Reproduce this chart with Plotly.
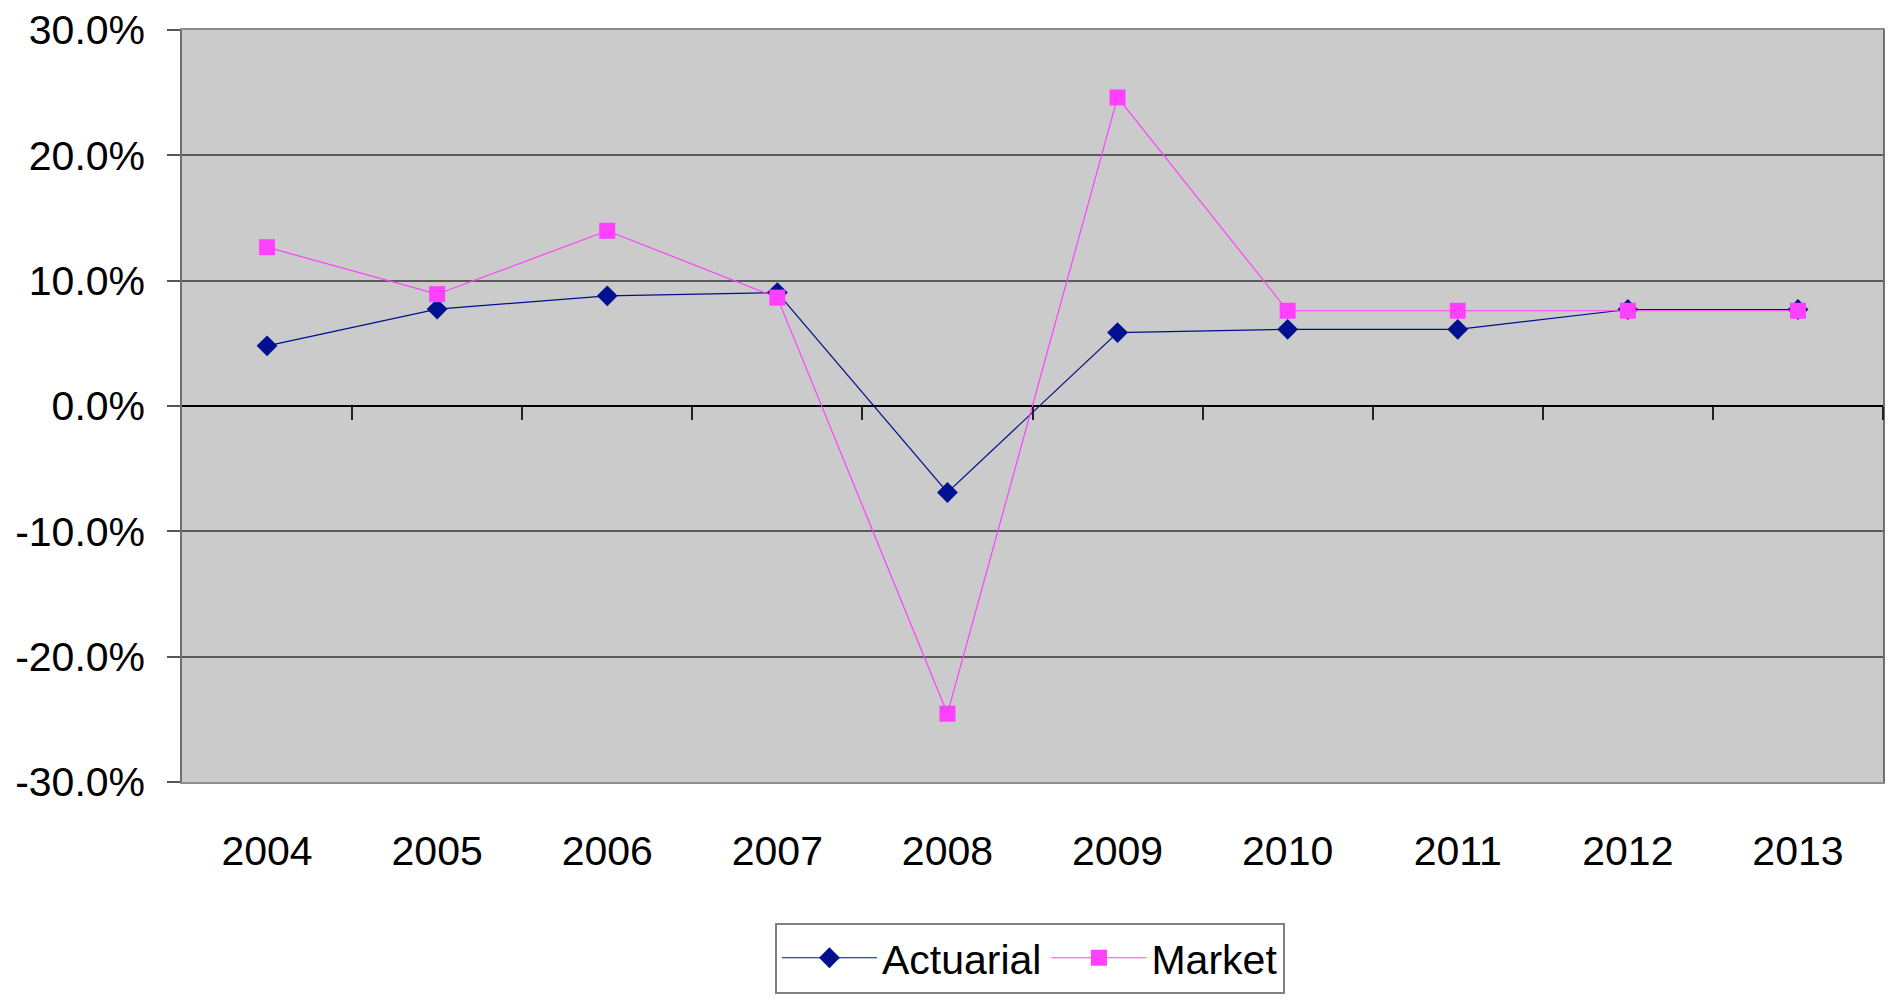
import plotly.graph_objects as go

years = ["2004", "2005", "2006", "2007", "2008", "2009", "2010", "2011", "2012", "2013"]
actuarial = [0.048, 0.0773, 0.0879, 0.0905, -0.069, 0.0586, 0.0612, 0.0612, 0.077, 0.077]
market = [0.1267, 0.0892, 0.1398, 0.0865, -0.2455, 0.2462, 0.076, 0.076, 0.076, 0.076]
y_ticks = [-0.3, -0.2, -0.1, 0.0, 0.1, 0.2, 0.3]
y_ticktext = [f"{v * 100:.1f}%" for v in y_ticks]
boundaries = [0.5, 1.5, 2.5, 3.5, 4.5, 5.5, 6.5, 7.5, 8.5, 9.5]

FONT = "Liberation Sans, Arial, sans-serif"

fig = go.Figure()
fig.add_trace(go.Scatter(
    x=years, y=actuarial, name="Actuarial", mode="lines+markers",
    line=dict(color="#000E8C", width=1.2),
    marker=dict(symbol="diamond", size=16, color="#001090"),
))
fig.add_trace(go.Scatter(
    x=years, y=market, name="Market", mode="lines+markers",
    line=dict(color="#FF40FF", width=1.2),
    marker=dict(symbol="square", size=16, color="#FF40FF"),
))
# invisible helper trace for the zero-line tick axis
fig.add_trace(go.Scatter(x=[boundaries[0]], y=[0], xaxis="x2", mode="markers",
                         marker=dict(opacity=0), showlegend=False, hoverinfo="skip"))

fig.update_layout(
    width=1890, height=1001,
    margin=dict(l=182, r=7, t=30, b=214),
    paper_bgcolor="white",
    plot_bgcolor="#CBCBCB",
    font=dict(family=FONT, size=41, color="black"),
    showlegend=True,
    legend=dict(
        orientation="h", x=0.4985, xanchor="center", y=-0.187, yanchor="top",
        bordercolor="#808080", borderwidth=2, bgcolor="white",
        font=dict(family=FONT, size=41, color="black"),
        itemwidth=95,
    ),
    xaxis=dict(
        type="category", range=[-0.5, 9.5], automargin=False,
        showgrid=False, zeroline=False,
        showline=True, mirror=True, linecolor="#8C8C8C", linewidth=2,
        ticks="", ticklabelstandoff=32,
        tickfont=dict(family=FONT, size=41, color="black"),
    ),
    xaxis2=dict(
        overlaying="x", anchor="free", position=0.5, side="bottom",
        range=[-0.5, 9.5], tickvals=boundaries, ticks="outside", ticklen=13,
        tickcolor="#222222", tickwidth=1.5, showticklabels=False,
        showgrid=False, zeroline=False, showline=False, automargin=False,
    ),
    yaxis=dict(
        range=[-0.3, 0.3], tickvals=y_ticks, ticktext=y_ticktext, automargin=False,
        showgrid=True, gridcolor="#5A5A5A", gridwidth=2,
        zeroline=True, zerolinecolor="black", zerolinewidth=1.5,
        showline=True, mirror=True, linecolor="#707070", linewidth=1.5,
        ticks="outside", ticklen=13, tickcolor="#555555", tickwidth=1.5,
        ticklabelstandoff=14,
        tickfont=dict(family=FONT, size=41, color="black"),
    ),
)

fig.write_html("out.html")
